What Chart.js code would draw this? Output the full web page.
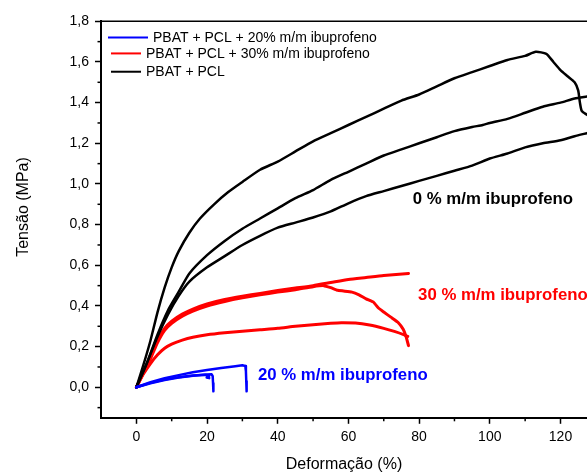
<!DOCTYPE html>
<html>
<head>
<meta charset="utf-8">
<script src="https://cdn.jsdelivr.net/npm/chart.js@4.4.1/dist/chart.umd.min.js"></script>
<style>
  html, body { margin: 0; padding: 0; background: #fff; }
  #wrap { width: 587px; height: 474px; position: relative; }
</style>
</head>
<body>
<div id="wrap"><canvas id="c" width="587" height="474"></canvas></div>
<script>
// ---------- data ----------
const xTicks = [0, 20, 40, 60, 80, 100, 120];
const yTicks = [0, 0.2, 0.4, 0.6, 0.8, 1.0, 1.2, 1.4, 1.6, 1.8];
const xMinorTicks = [10, 30, 50, 70, 90, 110];
const yMinorTicks = [-0.1, 0.1, 0.3, 0.5, 0.7, 0.9, 1.1, 1.3, 1.5, 1.7];

const legendLabels = ['PBAT + PCL + 20% m/m ibuprofeno', 'PBAT + PCL + 30% m/m ibuprofeno', 'PBAT + PCL'];
const annotationLabels = ['0 % m/m ibuprofeno', '30 % m/m ibuprofeno', '20 % m/m ibuprofeno'];

// PBAT + PCL (0 % ibuprofeno), three specimens: [deformação %, tensão MPa]
const pcl0a = [[0,0],[2,0.11],[4,0.23],[6,0.37],[8,0.49],[10,0.59],[12,0.67],[15,0.76],[18,0.83],[22,0.9],[26,0.96],[30,1.01],[35,1.07],[40,1.11],[45,1.16],[50,1.21],[55,1.25],[60,1.29],[65,1.33],[70,1.37],[75,1.41],[80,1.44],[85,1.48],[90,1.52],[95,1.55],[100,1.58],[105,1.61],[110,1.63],[113,1.65],[116,1.64],[118,1.6],[120,1.56],[122,1.53],[124,1.5],[125,1.46],[125.5,1.4],[126,1.36],[127.5,1.34]];
const pcl0b = [[0,0],[3,0.12],[6,0.26],[9,0.38],[12,0.47],[15,0.56],[20,0.65],[25,0.72],[30,0.78],[35,0.83],[40,0.88],[45,0.93],[50,0.97],[55,1.02],[60,1.06],[65,1.1],[70,1.14],[75,1.17],[80,1.2],[85,1.23],[90,1.26],[95,1.28],[98,1.29],[100,1.3],[105,1.32],[110,1.35],[115,1.38],[120,1.4],[124,1.42],[127.5,1.43]];
const pcl0c = [[0,0],[3,0.12],[6,0.25],[9,0.36],[12,0.45],[15,0.52],[20,0.59],[25,0.645],[30,0.7],[35,0.745],[40,0.785],[45,0.81],[50,0.835],[55,0.865],[60,0.905],[65,0.94],[70,0.965],[75,0.99],[80,1.015],[85,1.04],[90,1.065],[95,1.09],[100,1.125],[105,1.15],[110,1.18],[115,1.2],[120,1.215],[124,1.235],[127.5,1.25]];

// PBAT + PCL + 30 % m/m ibuprofeno
const ibu30a = [[0,0],[2,0.075],[4,0.15],[6,0.23],[8,0.29],[10,0.325],[13,0.36],[16,0.385],[20,0.41],[25,0.432],[30,0.448],[35,0.462],[40,0.476],[45,0.488],[50,0.5],[55,0.515],[60,0.53],[65,0.54],[70,0.55],[77,0.56]];
const ibu30b = [[0,0],[2,0.07],[4,0.14],[6,0.22],[8,0.28],[10,0.315],[13,0.35],[16,0.375],[20,0.4],[25,0.422],[30,0.44],[35,0.455],[40,0.468],[45,0.48],[50,0.495],[53,0.5],[55,0.49],[57,0.477],[61,0.468],[63,0.455],[65,0.435],[67,0.42],[68.5,0.39],[70,0.37],[72,0.345],[74,0.32],[75.5,0.285],[76.3,0.25],[77,0.205]];
const ibu30c = [[0,0],[2,0.065],[4,0.117],[6,0.16],[8,0.192],[10,0.212],[13,0.232],[16,0.246],[20,0.258],[25,0.268],[30,0.276],[35,0.283],[40,0.29],[45,0.3],[50,0.308],[55,0.315],[58,0.318],[62,0.316],[66,0.306],[70,0.29],[73,0.275],[75.8,0.258],[76.8,0.25]];

// PBAT + PCL + 20 % m/m ibuprofeno
const ibu20a = [[0,0],[4,0.025],[8,0.045],[12,0.06],[16,0.074],[20,0.085],[24,0.095],[28,0.104],[30,0.108],[30.8,0.105],[31,0.08],[31.1,0.03],[31.2,-0.02]];
const ibu20b = [[0,0],[4,0.02],[8,0.036],[12,0.048],[16,0.057],[20,0.063],[21.3,0.064],[21.6,0.055],[21.7,0.02],[21.8,-0.02]];
const ibu20c = [[0,0],[4,0.022],[8,0.038],[12,0.05],[16,0.058],[19.5,0.062],[20.5,0.058],[20.6,0.045],[19.9,0.048],[20.2,0.056]];

// ---------- chart ----------
const FONT = '"Liberation Sans", Arial, Helvetica, sans-serif';
const BLUE = '#0000ff', RED = '#ff0000', BLACK = '#000000';
const toXY = arr => arr.map(p => ({x: p[0], y: p[1]}));
const ds = (arr, color, w, t) => ({data: toXY(arr), borderColor: color, borderWidth: w, pointRadius: 0, tension: t, fill: false, borderJoinStyle: 'round', borderCapStyle: 'round'});

const decorations = {
  id: 'decorations',
  afterDraw(chart) {
    const ctx = chart.ctx, a = chart.chartArea;
    const xs = chart.scales.x, ys = chart.scales.y;
    ctx.save();
    ctx.strokeStyle = '#000';
    // top frame line
    ctx.lineWidth = 1.5;
    ctx.beginPath(); ctx.moveTo(a.left, a.top); ctx.lineTo(a.right, a.top); ctx.stroke();
    // minor ticks
    ctx.lineWidth = 1.5;
    xMinorTicks.forEach(v => {
      const px = xs.getPixelForValue(v);
      ctx.beginPath(); ctx.moveTo(px, a.bottom); ctx.lineTo(px, a.bottom + 3.5); ctx.stroke();
    });
    yMinorTicks.forEach(v => {
      const py = ys.getPixelForValue(v);
      ctx.beginPath(); ctx.moveTo(a.left, py); ctx.lineTo(a.left - 3.5, py); ctx.stroke();
    });
    // legend
    const legend = [
      {label: legendLabels[0], color: BLUE, x0: 108, x1: 148, tx: 153, y: ys.getPixelForValue(1.72)},
      {label: legendLabels[1], color: RED, x0: 111, x1: 141, tx: 146, y: ys.getPixelForValue(1.642)},
      {label: legendLabels[2], color: BLACK, x0: 111, x1: 141, tx: 146, y: ys.getPixelForValue(1.552)}
    ];
    ctx.font = '14px ' + FONT;
    ctx.textBaseline = 'middle';
    ctx.textAlign = 'left';
    legend.forEach(l => {
      ctx.strokeStyle = l.color; ctx.lineWidth = 2;
      ctx.beginPath(); ctx.moveTo(l.x0, l.y); ctx.lineTo(l.x1, l.y); ctx.stroke();
      ctx.fillStyle = '#000';
      ctx.fillText(l.label, l.tx, l.y + 0.5);
    });
    // annotations
    ctx.font = 'bold 16.8px ' + FONT;
    ctx.fillStyle = BLACK; ctx.fillText(annotationLabels[0], xs.getPixelForValue(78.2), ys.getPixelForValue(0.925));
    ctx.fillStyle = RED;   ctx.fillText(annotationLabels[1], xs.getPixelForValue(79.7), ys.getPixelForValue(0.45));
    ctx.fillStyle = BLUE;  ctx.fillText(annotationLabels[2], xs.getPixelForValue(34.4), ys.getPixelForValue(0.06));
    // axis titles
    ctx.fillStyle = '#000';
    ctx.font = '16px ' + FONT;
    ctx.textAlign = 'center';
    ctx.fillText('Deformação (%)', (a.left + a.right) / 2, 465);
    ctx.save();
    ctx.translate(24, 207);
    ctx.rotate(-Math.PI / 2);
    ctx.fillText('Tensão (MPa)', 0, 0);
    ctx.restore();
    ctx.restore();
  }
};

new Chart(document.getElementById('c'), {
  type: 'line',
  data: {
    datasets: [
      ds(ibu20a, BLUE, 2.5, 0), ds(ibu20b, BLUE, 2.5, 0), ds(ibu20c, BLUE, 2.5, 0),
      ds(pcl0a, BLACK, 2.5, 0.2), ds(pcl0b, BLACK, 2.5, 0.2), ds(pcl0c, BLACK, 2.5, 0.2),
      ds(ibu30a, RED, 3, 0.2), ds(ibu30b, RED, 3, 0.15), ds(ibu30c, RED, 3, 0.2)
    ]
  },
  options: {
    responsive: false,
    animation: false,
    events: [],
    layout: {padding: {top: 21.3, right: 0, left: 0, bottom: 0}},
    plugins: {legend: {display: false}, tooltip: {enabled: false}},
    scales: {
      x: {
        type: 'linear', min: -10, max: 127.5,
        afterBuildTicks: s => { s.ticks = xTicks.map(v => ({value: v})); },
        afterFit: s => { s.height = 474 - 417.8; },
        grid: {drawOnChartArea: false, drawTicks: true, tickLength: 6, tickWidth: 1.5, tickColor: '#000'},
        border: {display: true, color: '#000', width: 2},
        ticks: {color: '#000', font: {family: FONT, size: 14}, padding: 5, maxRotation: 0, autoSkip: false,
                callback: v => String(v)}
      },
      y: {
        type: 'linear', min: -0.15, max: 1.8,
        afterBuildTicks: s => { s.ticks = yTicks.map(v => ({value: v})); },
        afterFit: s => { s.width = 101; },
        grid: {drawOnChartArea: false, drawTicks: true, tickLength: 6, tickWidth: 1.5, tickColor: '#000'},
        border: {display: true, color: '#000', width: 2},
        ticks: {color: '#000', font: {family: FONT, size: 14}, padding: 6, autoSkip: false,
                callback: v => Number(v).toFixed(1).replace('.', ',')}
      }
    }
  },
  plugins: [decorations]
});
</script>
</body>
</html>
